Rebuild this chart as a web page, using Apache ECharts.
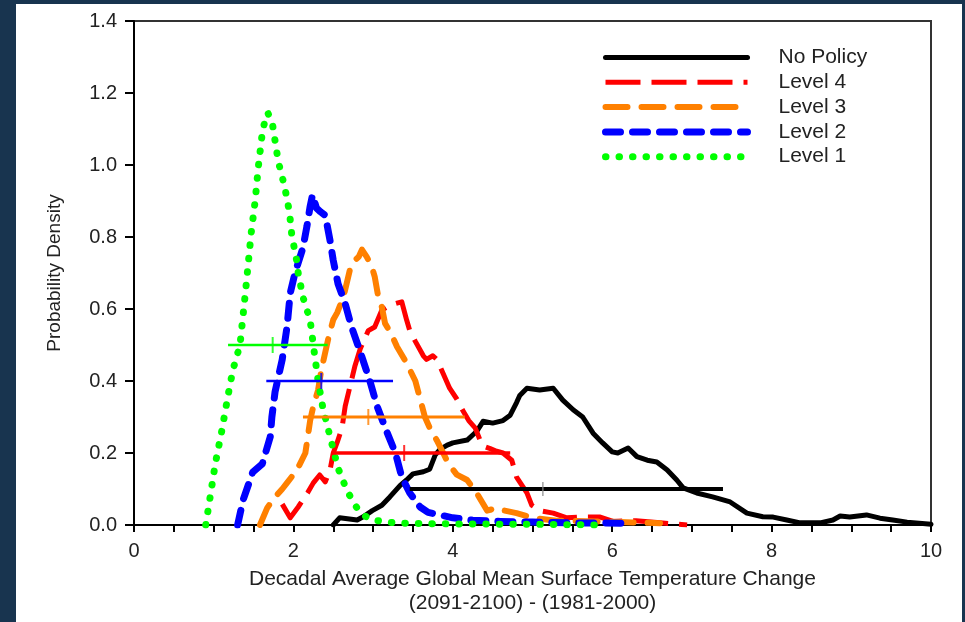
<!DOCTYPE html>
<html>
<head>
<meta charset="utf-8">
<script src="https://cdn.jsdelivr.net/npm/echarts@6/dist/echarts.min.js"></script>
<style>
html,body{margin:0;padding:0;background:#18344f;width:965px;height:622px;overflow:hidden;}
#chart{position:absolute;left:16px;top:4px;width:946px;height:618px;background:#ffffff;}
</style>
</head>
<body>
<div id="chart"></div>
<script>
// ---- data ----
const seriesNames = ['No Policy', 'Level 4', 'Level 3', 'Level 2', 'Level 1'];

const noPolicy = [[2.5,0],[2.58,0.02],[2.8,0.014],[2.87,0.022],[2.99,0.04],[3.11,0.055],[3.21,0.078],[3.34,0.11],[3.42,0.125],[3.5,0.142],[3.63,0.148],[3.71,0.155],[3.78,0.195],[3.84,0.21],[3.93,0.222],[4.0,0.228],[4.18,0.236],[4.25,0.25],[4.3,0.26],[4.38,0.288],[4.5,0.283],[4.63,0.29],[4.72,0.305],[4.8,0.34],[4.84,0.36],[4.93,0.38],[5.09,0.375],[5.26,0.38],[5.38,0.347],[5.51,0.32],[5.63,0.3],[5.76,0.255],[5.88,0.228],[6.0,0.203],[6.07,0.2],[6.2,0.214],[6.31,0.19],[6.44,0.18],[6.56,0.175],[6.69,0.153],[6.81,0.125],[6.89,0.103],[7.06,0.089],[7.26,0.078],[7.48,0.064],[7.69,0.033],[7.89,0.023],[8.02,0.022],[8.19,0.014],[8.36,0.006],[8.61,0.006],[8.77,0.014],[8.86,0.025],[8.98,0.022],[9.19,0.028],[9.36,0.019],[9.52,0.014],[9.7,0.008],[10,0.002]];

const level4 = [[1.86,0.058],[1.96,0.02],[2.06,0.05],[2.18,0.09],[2.25,0.117],[2.33,0.139],[2.4,0.12],[2.46,0.153],[2.5,0.2],[2.55,0.23],[2.61,0.27],[2.65,0.33],[2.71,0.385],[2.77,0.44],[2.84,0.49],[2.9,0.52],[2.94,0.54],[3.02,0.55],[3.11,0.597],[3.21,0.61],[3.28,0.615],[3.36,0.62],[3.42,0.57],[3.46,0.54],[3.53,0.51],[3.63,0.47],[3.67,0.46],[3.75,0.47],[3.8,0.46],[3.88,0.42],[3.96,0.38],[4.05,0.35],[4.12,0.32],[4.2,0.29],[4.28,0.27],[4.37,0.22],[4.47,0.212],[4.55,0.205],[4.63,0.2],[4.74,0.18],[4.8,0.133],[4.93,0.089],[4.99,0.055],[5.09,0.04],[5.26,0.033],[5.43,0.02],[5.63,0.022],[5.85,0.022],[6.01,0.01],[6.3,0.012],[6.6,0.006],[6.94,0.0]];

const level3 = [[1.58,0],[1.67,0.047],[1.74,0.07],[1.86,0.1],[1.92,0.117],[2.0,0.14],[2.06,0.16],[2.15,0.2],[2.18,0.245],[2.21,0.29],[2.25,0.33],[2.31,0.375],[2.35,0.43],[2.44,0.52],[2.5,0.57],[2.55,0.59],[2.63,0.635],[2.71,0.71],[2.77,0.735],[2.82,0.745],[2.86,0.765],[2.92,0.745],[2.98,0.72],[3.02,0.69],[3.06,0.64],[3.11,0.605],[3.15,0.56],[3.23,0.53],[3.3,0.495],[3.42,0.45],[3.53,0.4],[3.59,0.35],[3.65,0.3],[3.71,0.27],[3.8,0.235],[3.88,0.2],[3.94,0.172],[4.05,0.14],[4.18,0.125],[4.3,0.089],[4.43,0.04],[4.55,0.047],[4.65,0.04],[4.8,0.033],[5.0,0.02],[5.3,0.012],[5.8,0.01],[6.3,0.007],[6.6,0.005]];

const level2 = [[1.3,0],[1.37,0.07],[1.49,0.147],[1.61,0.17],[1.71,0.245],[1.73,0.3],[1.77,0.37],[1.81,0.41],[1.86,0.46],[1.92,0.55],[1.96,0.644],[2.02,0.7],[2.12,0.77],[2.17,0.83],[2.21,0.885],[2.24,0.917],[2.29,0.88],[2.34,0.87],[2.4,0.86],[2.46,0.79],[2.5,0.735],[2.56,0.67],[2.65,0.615],[2.73,0.55],[2.84,0.48],[2.96,0.4],[3.05,0.33],[3.17,0.26],[3.28,0.2],[3.36,0.133],[3.46,0.089],[3.59,0.05],[3.69,0.035],[4.0,0.02],[4.25,0.013],[4.6,0.01],[5.0,0.008],[5.5,0.006],[6.2,0.005]];

const level1 = [[0.9,0],[0.95,0.07],[1.02,0.17],[1.1,0.26],[1.18,0.36],[1.24,0.43],[1.33,0.5],[1.4,0.65],[1.47,0.81],[1.52,0.9],[1.56,0.995],[1.61,1.09],[1.64,1.12],[1.68,1.145],[1.74,1.11],[1.81,1.01],[1.89,0.94],[1.95,0.87],[1.98,0.805],[2.04,0.736],[2.06,0.7],[2.12,0.633],[2.21,0.569],[2.25,0.5],[2.31,0.4],[2.37,0.325],[2.48,0.228],[2.56,0.158],[2.67,0.097],[2.75,0.064],[2.84,0.033],[2.98,0.014],[3.3,0.005],[4.0,0.003],[5.0,0.002],[5.85,0.0]];

// 90% ranges (horizontal bars) with medians, one per series above
const rangeLevel  = [0.1, 0.2, 0.3, 0.4, 0.5];
const rangeLow    = [3.46, 2.48, 2.12, 1.66, 1.18];
const rangeHigh   = [7.39, 4.72, 4.15, 3.25, 2.43];
const rangeMedian = [5.13, 3.39, 2.94, 2.35, 1.74];

const xTickValues = [0, 2, 4, 6, 8, 10];
const yTickValues = [0, 0.2, 0.4, 0.6, 0.8, 1.0, 1.2, 1.4];

// ---- styles ----
const curveData = [noPolicy, level4, level3, level2, level1];
const colors = ['#000000', '#ff0000', '#ff8000', '#0000ff', '#00ff00'];
const curveStyles = [
  {width: 5, type: 'solid', cap: 'round', join: 'round'},
  {width: 5, type: [35, 11], cap: 'butt', join: 'round'},
  {width: 6, type: [22, 14], cap: 'round', join: 'round'},
  {width: 7, type: [15, 12], cap: 'round', join: 'round'},
  {width: 7, type: [0.5, 13], cap: 'round', join: 'round'}
];
const barWidths = [4, 3.5, 3, 2.5, 2.5];
const medianColors = ['#888888', '#ff0000', '#ff8000', '#0000ff', '#00ff00'];
const medianSizes = [[1.5, 14], [2, 16], [2, 16], [2, 16], [2, 16]];

const FONT = 'Liberation Sans, Arial, sans-serif';
const TXT = '#222222';

const series = [];
curveData.forEach((d, i) => {
  series.push({
    name: seriesNames[i], type: 'line', data: d, symbol: 'none', smooth: false,
    lineStyle: Object.assign({color: colors[i]}, curveStyles[i]),
    itemStyle: {color: colors[i]}, z: 2 + i, silent: true
  });
});
rangeLevel.forEach((y, i) => {
  series.push({
    name: '_range' + i, type: 'line', symbol: 'none',
    data: [[rangeLow[i], y], [rangeHigh[i], y]],
    lineStyle: {color: colors[i], width: barWidths[i], type: 'solid', cap: 'butt'},
    z: 10, silent: true
  });
  series.push({
    name: '_median' + i, type: 'scatter', symbol: 'rect', symbolSize: medianSizes[i],
    data: [[rangeMedian[i], y]],
    itemStyle: {color: medianColors[i]}, z: 11, silent: true
  });
});

const chart = echarts.init(document.getElementById('chart'), null, {renderer: 'canvas'});
chart.setOption({
  animation: false,
  backgroundColor: '#ffffff',
  textStyle: {fontFamily: FONT},
  grid: {left: 118, top: 17, width: 797, height: 504, show: true, borderColor: '#333333', borderWidth: 2, backgroundColor: 'transparent'},
  legend: {
    data: seriesNames, orient: 'vertical', left: 581, top: 38,
    itemWidth: 142, itemHeight: 14, itemGap: 3.8,
    itemStyle: {opacity: 0, borderWidth: 0},
    lineStyle: {width: 'inherit', type: 'inherit', cap: 'inherit', join: 'inherit', color: 'inherit', opacity: 1},
    textStyle: {fontFamily: FONT, fontSize: 21, color: TXT, padding: [0, 0, 0, 26]},
    selectedMode: false
  },
  xAxis: {
    type: 'value', min: 0, max: 10, interval: 2,
    axisLine: {show: true, onZero: false, lineStyle: {color: '#000', width: 2}},
    axisTick: {show: true, length: 7, lineStyle: {color: '#000', width: 2}},
    minorTick: {show: true, splitNumber: 4, length: 7, lineStyle: {color: '#000', width: 2}},
    splitLine: {show: false},
    axisLabel: {fontSize: 20, color: TXT, margin: 16, fontFamily: FONT,
      formatter: v => xTickValues.indexOf(v) >= 0 ? String(v) : ''},
    name: 'Decadal Average Global Mean Surface Temperature Change\n(2091-2100) - (1981-2000)',
    nameLocation: 'middle', nameGap: 42,
    nameTextStyle: {fontSize: 21, lineHeight: 24, color: TXT, fontFamily: FONT, align: 'center'}
  },
  yAxis: {
    type: 'value', min: 0, max: 1.4, interval: 0.2,
    axisLine: {show: true, onZero: false, lineStyle: {color: '#000', width: 2}},
    axisTick: {show: true, length: 9, lineStyle: {color: '#000', width: 2}},
    splitLine: {show: false},
    axisLabel: {fontSize: 20, color: TXT, margin: 17, fontFamily: FONT,
      formatter: v => {
        const hit = yTickValues.find(t => Math.abs(t - v) < 1e-9);
        return hit === undefined ? '' : hit.toFixed(1);
      }},
    name: 'Probability Density', nameLocation: 'middle', nameGap: 70,
    nameTextStyle: {fontSize: 19, color: TXT, fontFamily: FONT}
  },
  series: series
});
</script>
</body>
</html>
